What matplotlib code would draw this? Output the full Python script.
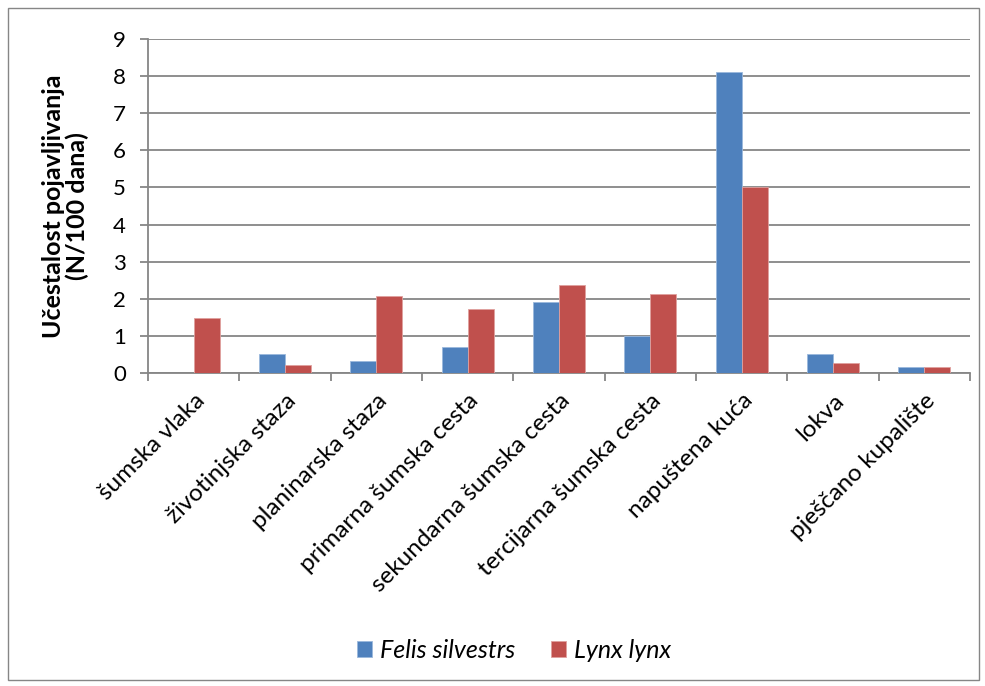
import matplotlib
matplotlib.use('Agg')
import matplotlib.pyplot as plt
import numpy as np
from matplotlib.patches import Rectangle

plt.rcParams['font.family'] = ['Lato', 'DejaVu Sans']

categories = ['šumska vlaka', 'životinjska staza', 'planinarska staza',
              'primarna šumska cesta', 'sekundarna šumska cesta',
              'tercijarna šumska cesta', 'napuštena kuća', 'lokva',
              'pješčano kupalište']
felis = [0.0, 0.52, 0.32, 0.69, 1.92, 0.99, 8.11, 0.52, 0.17]
lynx = [1.47, 0.21, 2.08, 1.73, 2.38, 2.13, 5.02, 0.27, 0.17]
series_names = ['Felis silvestrs', 'Lynx lynx']
colors = ['#4f81bd', '#c0504d']
axis_gray = '#868686'

fig = plt.figure(figsize=(9.85, 6.86), dpi=100)
fig.patches.append(Rectangle((8 / 985, 6 / 686), 971 / 985, 672 / 686,
                             transform=fig.transFigure, fill=False,
                             edgecolor=axis_gray, linewidth=1))
ax = fig.add_axes([148 / 985, 1 - 373 / 686, 822 / 985, 334 / 686])

x = np.arange(len(categories))
w = 0.285
ax.bar(x - w / 2, felis, w, color=colors[0], label=series_names[0],
       edgecolor='#9bb8dc', linewidth=0.6, zorder=3)
ax.bar(x + w / 2, lynx, w, color=colors[1], label=series_names[1],
       edgecolor='#e0a09e', linewidth=0.6, zorder=3)

ax.set_xlim(-0.5, len(categories) - 0.5)
ax.set_ylim(0, 9)
ax.set_yticks(range(10))
ax.yaxis.grid(True, color=axis_gray, linewidth=1.3, zorder=0)
ax.set_axisbelow(True)

for s in ['top', 'right']:
    ax.spines[s].set_visible(False)
for s in ['left', 'bottom']:
    ax.spines[s].set_color(axis_gray)
    ax.spines[s].set_linewidth(1.3)

ax.set_xticks(x)
ax.set_xticklabels(categories, rotation=45, ha='right', rotation_mode='anchor',
                   fontsize=17.5)
ax.tick_params(axis='x', length=0, pad=12)
ax.set_xticks(np.arange(-0.5, len(categories)), minor=True)
ax.tick_params(axis='x', which='minor', length=6, color=axis_gray, width=1.3)
ax.tick_params(axis='y', labelsize=16, length=6, color=axis_gray, width=1.3,
               pad=10)

ax.set_ylabel('Učestalost pojavljivanja\n(N/100 dana)', fontsize=18,
              fontweight='bold', labelpad=34, linespacing=1.0,
              ha='center', va='center')

handles, labels = ax.get_legend_handles_labels()
fig.legend(handles, labels, loc='center', bbox_to_anchor=(0.522, 1 - 650 / 686),
           ncol=2, frameon=False, prop={'style': 'italic', 'size': 18},
           handlelength=0.6, handleheight=0.6, columnspacing=1.4,
           handletextpad=0.35)

fig.savefig('out.png', dpi=100)
